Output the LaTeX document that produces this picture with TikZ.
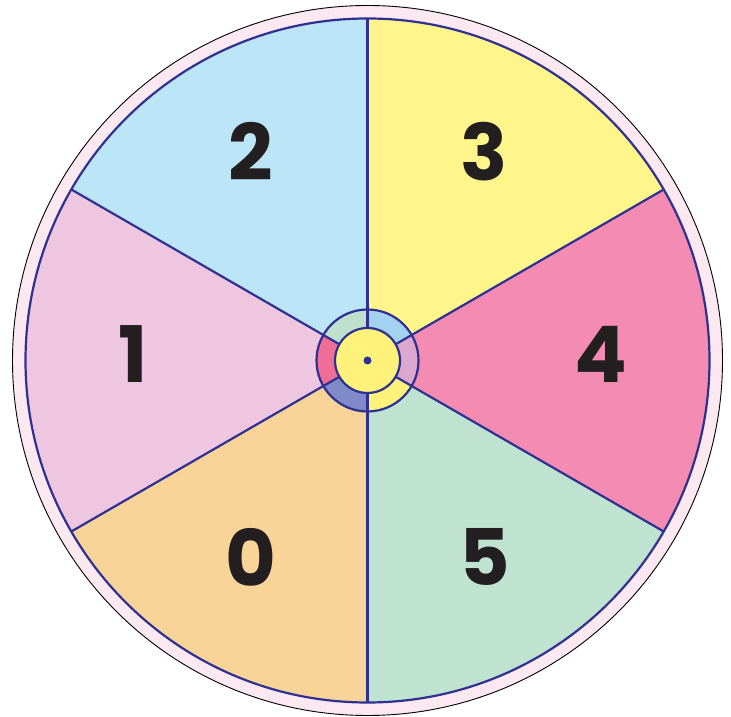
\documentclass[tikz,border=0pt]{standalone}
\usepackage{fontspec}
\usetikzlibrary{calc}
\newfontfamily\digitfont{Poppins}[UprightFont=* Bold]
\definecolor{linecol}{HTML}{2E3192}
\definecolor{band}{HTML}{FCE8F0}
\definecolor{cTwo}{HTML}{BDE5F8}
\definecolor{cThree}{HTML}{FFF58A}
\definecolor{cFour}{HTML}{F48BB3}
\definecolor{cFive}{HTML}{BFE3D0}
\definecolor{cZero}{HTML}{F9D498}
\definecolor{cOne}{HTML}{EEC6DF}
\definecolor{rA}{HTML}{BFE0CC}
\definecolor{rB}{HTML}{A3D2F0}
\definecolor{rC}{HTML}{DDA8CF}
\definecolor{rD}{HTML}{FFF27A}
\definecolor{rE}{HTML}{7F8BC8}
\definecolor{rF}{HTML}{EF6E98}
\definecolor{digit}{HTML}{231F20}
\begin{document}
\begin{tikzpicture}[x=1pt,y=1pt,
  sectorline/.style={draw=linecol,line width=2.2pt},
  numlabel/.style={font=\digitfont\fontsize{78}{78}\selectfont,text=digit,inner sep=0pt}]
\useasboundingbox (0,0) rectangle (731,717);
\coordinate (c) at (367.5,356.5);
\coordinate (t) at (367.5,362.5);
% outer band
\fill[band,draw=black,line width=0.9pt] (c) circle (355);
% sectors
\foreach \a/\col in {90/cTwo,30/cThree,-30/cFour,-90/cFive,210/cZero,150/cOne}{
  \fill[\col] (c) -- ++(\a:342) arc[start angle=\a,delta angle=60,radius=342] -- cycle;
}
% ring segments
\foreach \a/\col in {90/rA,30/rB,-30/rC,-90/rD,210/rE,150/rF}{
  \fill[\col] (c) ++(\a:51) arc[start angle=\a,delta angle=60,radius=51] -- ++(\a+60:-18.5) arc[start angle=\a+60,delta angle=-60,radius=32.5] -- cycle;
}
% spokes
\foreach \a in {90,30,-30,-90,210,150}{
  \draw[sectorline] (c) ++(\a:32.5) -- ++(\a:309.5);
}
\draw[sectorline] (c) circle (342);
\draw[sectorline,fill=rD] (c) circle (32.5);
\draw[sectorline] (c) circle (51);
\fill[linecol] (c) circle (4);
% numbers
\node[numlabel] (n2) at ($(t)+(120:234)$) {2};
\node[numlabel] (n3) at ($(t)+(60:234)$) {3};
\node[numlabel] (n4) at ($(t)+(0:233)$) {4};
\node[numlabel] (n5) at ($(t)+(-60:234)$) {5};
\node[numlabel] (n0) at ($(t)+(240:234)$) {0};
\node[numlabel] (n1) at ($(t)+(180:234)$) {1};
\end{tikzpicture}
\end{document}
